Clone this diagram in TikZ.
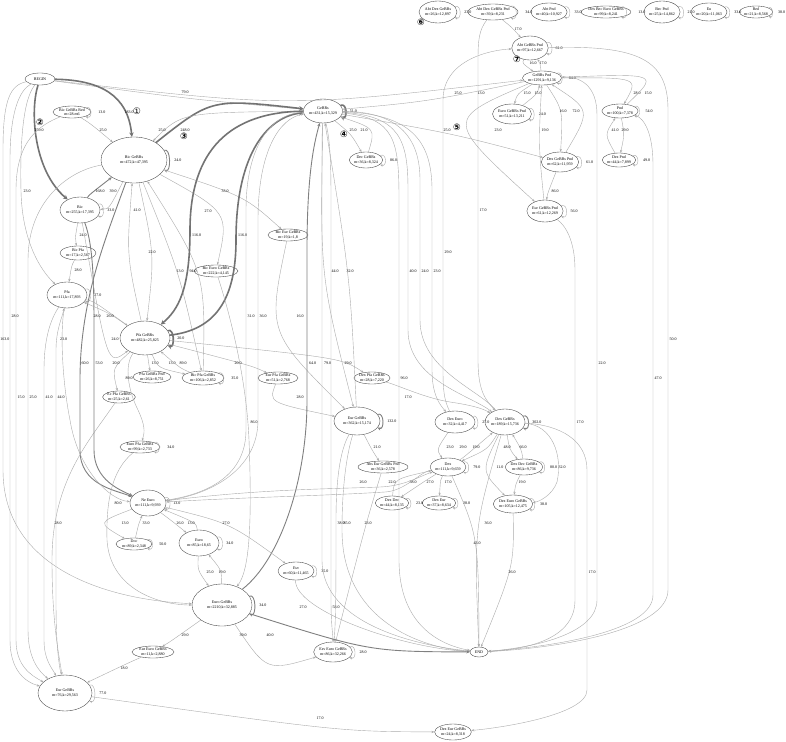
\documentclass[tikz,border=0pt]{standalone}
\usepackage{fontspec}
\setmainfont{Liberation Serif}
\newfontfamily\djv{DejaVu Sans}
\usetikzlibrary{shapes.geometric,arrows.meta,calc}
\newcommand\Nd[6]{\node[nd,minimum width=#4pt,minimum height=#5pt] (#1) at (#2,#3) {#6};}
\newcommand\Ea[5][e]{\draw[#1] (#2) .. controls ($2*(#4)+(-12,0)-0.5*(#2)-0.5*(#3)$) .. (#3); \node[lb] at (#4) {#5};}
\newcommand\Ep[6][e]{\draw[#1] (#2) .. controls ($2*(#4)-0.5*(#2)-0.5*(#3)$) .. (#3); \node[lb] at (#5) {#6};}
\newcommand\Sl[3][e]{\draw[#1] (#2.18) .. controls ($(#2.18)+(7,-3)$) and ($(#2.-18)+(7,3)$) .. (#2.-18); \node[lb,anchor=west] at ($(#2.east)+(7,0)$) {#3};}
\begin{document}
\begin{tikzpicture}[x=1pt,y=-1pt,
  nd/.style={ellipse,draw=black!75,line width=0.35pt,inner sep=0pt,align=center,font=\fontsize{4}{4.6}\selectfont},
  lb/.style={font=\fontsize{4}{4.6}\selectfont,inner sep=0pt},
  e/.style={draw=black!33,line width=0.4pt,-{Stealth[length=3pt,width=2.2pt]}},
  em/.style={draw=black!50,line width=0.9pt,-{Stealth[length=3.5pt,width=3pt]}},
  et/.style={draw=black!55,line width=1.6pt,-{Stealth[length=4.5pt,width=4.5pt]}},
  mk/.style={font=\djv\fontsize{9}{9}\selectfont,inner sep=0pt},
  mkb/.style={font=\djv\bfseries\fontsize{9}{9}\selectfont,inner sep=0pt}]
\useasboundingbox[fill=white] (0,0) rectangle (786,741);
% ---------------- nodes ----------------
\Nd{begin}{40}{79}{30}{12}{BEGIN}
\Nd{bicred}{72}{112}{38}{12}{Bic GeBRs Red\\m=28.m6}
\Nd{bicg}{134}{160}{66}{46}{Bic GeBRs\\m=472,k=47,395}
\Nd{bic}{80}{210}{40}{26}{Bic\\m=255,k=17,395}
\Nd{bicpfa}{78}{253}{36}{14}{Bic Pfa\\m=17,k=2,567}
\Nd{pfa}{67}{295}{40}{26}{Pfa\\m=111,k=17,893}
\Nd{pfag}{145}{338}{50}{34}{Pfa GeBRs\\m=482,k=25,825}
\Nd{pfagp}{152}{377}{38}{12}{Pfa GeBRs Pnd\\m=26,k=8,751}
\Nd{bicpfag}{203}{378}{42}{14}{Bic Pfa GeBRs\\m=106,k=2,852}
\Nd{eurpfa}{119}{397}{30}{12}{Ec Pfa GeBRs\\m=25,k=2,61}
\Nd{europfa}{140}{447}{40}{12}{Euro Pfa GeBRs\\m=99,k=2,733}
\Nd{biceuro}{216}{271}{44}{12}{Bic Euro GeBRs\\m=222,k=4,145}
\Nd{biceur}{288}{235}{40}{12}{Bic Eur GeBRs\\m=19,k=1,8}
\Nd{gebrs}{323}{111}{38}{24}{GeBRs\\m=431,k=15,329}
\Nd{decg}{366}{160}{32}{16}{Dec GeBRs\\m=36,k=8,324}
\Nd{eurg}{357}{421}{46}{28}{Eur GeBRs\\m=362,k=15,174}
\Nd{eurpfag}{278}{378}{40}{12}{Eur Pfa GeBRs\\m=51,k=2,768}
\Nd{dexpfag}{372}{378}{36}{12}{Dex Pfa GeBRs\\m=28,k=7,220}
\Nd{abseur}{383}{467}{50}{12}{Abs Eur GeBRs Pnd\\m=36,k=2,578}
\Nd{dexg}{505}{422}{40}{26}{Dex GeBRs\\m=189,k=15,736}
\Nd{dexeuro}{455}{422}{40}{22}{Dex Euro\\m=32,k=4,417}
\Nd{dex}{448}{467}{34}{18}{Dex\\m=111,k=9,659}
\Nd{dexdec}{392}{503}{32}{14}{Dex Dec\\m=44,k=8,135}
\Nd{dexeur}{439}{503}{32}{14}{Dex Eur\\m=37,k=8,634}
\Nd{dexdecg}{524}{467}{36}{16}{Dex Dec GeBRs\\m=86,k=9,736}
\Nd{dexeurog}{513}{504}{34}{18}{Dex Euro GeBRs\\m=105,k=12,475}
\Nd{end}{479}{652}{18}{10}{END}
\Nd{dexeurg}{453}{732}{36}{16}{Dex Eur GeBRs\\m=24,k=8,318}
\Nd{eurgl}{65}{693}{54}{36}{Eur GeBRs\\m=76,k=29,563}
\Nd{eureurog}{153}{652}{42}{12}{Eur Euro GeBRs\\m=11,k=2,880}
\Nd{eurog}{222}{605}{60}{42}{Euro GeBRs\\m=2210,k=32,885}
\Nd{euro}{199}{543}{40}{26}{Euro\\m=85,k=18,65}
\Nd{doc}{134}{544}{36}{12}{Doc\\m=89,k=2,348}
\Nd{neeuro}{148}{503}{36}{26}{Ne Euro\\m=111,k=9,939}
\Nd{esv}{296}{571}{30}{18}{Esv\\m=60,k=11,465}
\Nd{esveurog}{333}{652}{36}{20}{Esv Euro GeBRs\\m=86,k=32,266}
\Nd{abtdex}{438}{12}{38}{22}{Abt Dex GeBRs\\m=26,k=12,897}
\Nd{abtdexp}{493}{12}{50}{16}{Abt Dex GeBRs Pnd\\m=39,k=8,231}
\Nd{abtpnd}{549}{12}{32}{18}{Abt Pnd\\m=40,k=10,927}
\Nd{dexbec}{606}{12}{46}{12}{Dex Bec Euro GeBRs\\m=99,k=8,241}
\Nd{becpnd}{662}{12}{34}{22}{Bec Pnd\\m=25,k=14,862}
\Nd{eu}{709}{12}{30}{18}{Eu\\m=20,k=11,063}
\Nd{red}{756}{12}{32}{12}{Red\\m=21,k=8,568}
\Nd{abtgp}{530}{48}{32}{24}{Abt GeBRs Pnd\\m=97,k=12,667}
\Nd{gebrsp}{542}{78}{36}{14}{GeBRs Pnd\\m=1291,k=9,136}
\Nd{eurogp}{512}{114}{34}{20}{Euro GeBRs Pnd\\m=51,k=13,211}
\Nd{dexgp}{560}{162}{30}{20}{Dex GeBRs Pnd\\m=62,k=11,959}
\Nd{eurgp}{545}{211}{34}{22}{Eur GeBRs Pnd\\m=61,k=12,269}
\Nd{pnd}{620}{111}{36}{14}{Pnd\\m=100,k=7,378}
\Nd{dexpnd}{619}{160}{32}{14}{Dex Pnd\\m=44,k=7,899}
% ---------------- markers ----------------
\node[mk] (m1) at (137,111) {①};
\node[mkb] (m2) at (40,122) {②};
\node[mkb] (m3) at (184,136) {③};
\node[mkb] (m4) at (344,134) {④};
\node[mkb] (m5) at (457,127) {⑤};
\node[mkb] (m6) at (421,22) {⑥};
\node[mkb] (m7) at (517,59) {⑦};
% ---------------- self loops ----------------
\Sl{bicred}{13.0}
\Sl[em]{bicg}{24.0}
\Sl{bic}{33.0}
\Sl{pfa}{27.0}
\Sl[et]{pfag}{20.0}
\Sl{bicpfag}{35.0}
\Sl{europfa}{34.0}
\Sl[et]{gebrs}{51.0}
\Sl{decg}{86.0}
\Sl[em]{eurg}{132.0}
\Sl[em]{dexg}{302.0}
\Sl{dexeuro}{27.0}
\Sl{dex}{79.0}
\Sl{dexdec}{23.0}
\Sl{dexeur}{28.0}
\Sl{dexdecg}{80.0}
\Sl{dexeurog}{38.0}
\Sl{eurgl}{77.0}
\Sl[em]{eurog}{34.0}
\Sl{euro}{34.0}
\Sl{doc}{50.0}
\Sl{neeuro}{13.0}
\Sl{esv}{35.0}
\Sl{esveurog}{28.0}
\Sl{abtdex}{23.0}
\Sl{abtdexp}{34.0}
\Sl{abtpnd}{33.0}
\Sl{dexbec}{13.0}
\Sl{becpnd}{21.0}
\Sl{eu}{33.0}
\draw[e] (red.18) .. controls ($(red.18)+(5,-3)$) and ($(red.-18)+(5,3)$) .. (red.-18);
\node[lb,anchor=west] at ($(red.east)+(5,0)$) {38.0};
\Sl{abtgp}{61.0}
\Sl{gebrsp}{84.0}
\Sl{eurogp}{24.0}
\Sl{dexgp}{61.0}
\Sl{eurgp}{56.0}
\Sl{pnd}{54.0}
\Sl{dexpnd}{49.0}
% ---------------- top cluster ----------------
\Ep{abtdexp}{abtgp}{512,29}{518,29}{17.0}
\Ep{abtgp}{gebrsp}{529,63}{533,63}{16.0}
\Ep{gebrsp}{abtgp}{538,63}{543,63}{17.0}
\Ep{gebrsp}{eurogp}{522,95}{527,93}{15.0}
\Ep{eurogp}{gebrsp}{532,95}{538,93}{15.0}
\Ep{gebrsp}{eurgp}{494,132}{498,130}{23.0}
\Ep{eurgp}{gebrsp}{541,145}{545,130}{19.0}
\Ep{gebrsp}{dexgp}{557,115}{563,111}{16.0}
\Ep{dexgp}{gebrsp}{571,115}{576,111}{72.0}
\Ep{dexgp}{eurgp}{550,190}{555,191}{86.0}
\Ep{gebrsp}{pnd}{610,86}{637,93}{28.0}
\Ep{pnd}{gebrsp}{620,84}{648,93}{15.0}
\Ep{pnd}{dexpnd}{622,135}{625,130}{29.0}
\Ep{dexpnd}{pnd}{612,135}{615,130}{41.0}
% long right lines
\draw[e] (abtgp) .. controls (640,45) and (668,60) .. (668,110) -- (668,590) .. controls (668,630) and (560,648) .. (end);
\node[lb,anchor=west] at (669.5,339) {50.0};
\draw[e] (pnd) .. controls (645,118) and (653,135) .. (653,165) -- (653,595) .. controls (653,630) and (560,646) .. (end);
\node[lb,anchor=west] at (654.5,378) {47.0};
\draw[e] (gebrsp) .. controls (580,76) and (597,85) .. (597,115) -- (597,600) .. controls (597,632) and (540,647) .. (end);
\node[lb,anchor=west] at (598.5,363) {22.0};
\draw[e] (eurgp) .. controls (565,225) and (575,240) .. (575,270) -- (575,600) .. controls (575,638) and (530,649) .. (end);
\node[lb,anchor=west] at (576.5,422) {17.0};
\draw[e] (dexg) .. controls (560,425) and (587,440) .. (587,470) -- (587,690) .. controls (587,715) and (500,728) .. (dexeurg);
\node[lb,anchor=west] at (588.5,572) {17.0};
\draw[e] (abtdexp) .. controls (479,30) and (478,40) .. (478,60) -- (478,360) .. controls (478,392) and (486,400) .. (dexg);
\node[lb,anchor=west] at (479.5,210) {17.0};
\draw[e] (dexeuro) .. controls (444,400) and (443,390) .. (443,370) -- (443,100) .. controls (443,60) and (490,50) .. (abtgp);
\node[lb,anchor=west] at (444.5,252) {29.0};
% ---------------- begin ----------------
\Ep{begin}{gebrs}{185,97}{185,92}{79.0}
\Ep{begin}{gebrsp}{290,93}{458,93}{25.0}
\Ep{gebrsp}{gebrs}{430,98}{481,93}{13.0}
\Ep{gebrs}{dexgp}{447,135}{447,130}{25.0}
\draw[et] (begin) .. controls (100,80) and (128,95) .. (bicg);
\node[lb] at (129,112) {183.0};
\draw[et] (begin) .. controls (30,110) and (33,170) .. (bic);
\node[lb] at (39,130) {259.0};
\draw[e] (begin) .. controls (22,100) and (20,150) .. (21,191) .. controls (22,240) and (40,270) .. (pfa);
\node[lb,anchor=west] at (23.5,191) {23.0};
\draw[e] (begin) .. controls (10,85) and (3,100) .. (3,150) -- (3,470) .. controls (3,570) and (110,600) .. (eurog);
\node[lb] at (5,339) {163.0};
\draw[e] (begin) .. controls (20,90) and (10,110) .. (10,160) -- (10,640) .. controls (10,670) and (25,682) .. (eurgl);
\node[lb,anchor=west] at (11.5,316) {28.0};
\draw[e] (bicred) .. controls (40,125) and (16,140) .. (16,190) -- (16,640) .. controls (16,665) and (30,675) .. (eurgl);
\node[lb,anchor=west] at (17.5,397) {15.0};
\draw[e] (bicg) .. controls (70,170) and (28,200) .. (28,260) -- (28,630) .. controls (28,660) and (40,672) .. (eurgl);
\node[lb,anchor=west] at (29.5,397) {25.0};
\draw[e] (pfa) .. controls (50,320) and (44,340) .. (44,370) -- (44,640) .. controls (44,660) and (52,668) .. (eurgl);
\node[lb,anchor=west] at (45.5,397) {41.0};
\draw[e] (eurgl) .. controls (58,660) and (56,640) .. (56,600) -- (56,350) .. controls (56,330) and (62,318) .. (pfa);
\node[lb,anchor=west] at (57.5,397) {44.0};
\draw[e] (eurpfa) .. controls (90,440) and (52,480) .. (52,560) .. controls (52,620) and (58,650) .. (eurgl);
\node[lb,anchor=west] at (54.5,523) {28.0};
% ---------------- bic area ----------------
\Ep[et]{bicg}{gebrs}{220,117}{185,130}{248.0}
\Ep{gebrs}{bicg}{205,124}{162,130}{25.0}
\Ea{bicred}{bicg}{103,130}{25.0}
\Ep[em]{bic}{bicg}{98,190}{100,191}{168.0}
\Ep{bicg}{bic}{108,197}{113,191}{39.0}
\Ea{bic}{bicpfa}{83,235}{24.0}
\Ea{bicpfa}{pfa}{78,270}{28.0}
\Ep{pfag}{bicg}{133,252}{137,210}{41.0}
\Ep{bicg}{pfag}{147,252}{152,252}{22.0}
\Ea{bicg}{bicpfag}{180,271}{13.0}
\Ea{bicpfag}{bicg}{193,271}{94.0}
\Ep{bicg}{biceur}{228,197}{225,191}{33.0}
\Ep{bicg}{biceuro}{202,214}{208,211}{27.0}
\draw[et] (gebrs) .. controls (230,112) and (190,150) .. (190,230) .. controls (190,290) and (178,310) .. (pfag);
\node[lb,anchor=west] at (192,235) {116.0};
\draw[et] (pfag) .. controls (215,330) and (236,300) .. (236,240) .. controls (236,150) and (270,116) .. (gebrs);
\node[lb,anchor=west] at (238,235) {116.0};
\draw[em] (bicg) .. controls (105,240) and (80,300) .. (80,380) -- (80,450) .. controls (80,485) and (115,490) .. (neeuro);
\node[lb,anchor=west] at (81.5,363) {60.0};
\draw[em] (bic) .. controls (95,250) and (94,300) .. (94,360) -- (94,450) .. controls (94,480) and (120,490) .. (neeuro);
\node[lb,anchor=west] at (95.5,363) {53.0};
\draw[e] (pfa) .. controls (60,330) and (62,380) .. (70,420) .. controls (78,470) and (110,500) .. (neeuro);
\node[lb,anchor=west] at (60,339) {23.0};
\Ep{bic}{pfag}{110,320}{115,339}{24.0}
\Ep{pfa}{pfag}{100,309}{97,316}{28.0}
\Ep{pfag}{pfa}{108,315}{110,316}{26.0}
% ---------------- pfa gebrs ----------------
\Ep{pfag}{pfagp}{149,363}{155,363}{13.0}
\Ea{pfag}{bicpfag}{172,363}{13.0}
\Ea{bicpfag}{pfag}{183,363}{89.0}
\Ep{pfag}{eurpfa}{122,368}{116,363}{20.0}
\draw[e] (pfag) .. controls (124,365) and (128,390) .. (138,410) .. controls (145,425) and (145,432) .. (europfa);
\node[lb] at (129,378) {89.0};
\draw[e] (europfa) .. controls (112,470) and (106,500) .. (107,540) .. controls (110,590) and (160,605) .. (eurog);
\node[lb] at (118,503) {80.0};
\Ep{pfag}{eurpfag}{232,362}{238,363}{20.0}
\Ep{pfag}{dexpfag}{300,358}{348,363}{29.0}
\Ep{eurpfag}{eurg}{293,401}{300,397}{28.0}
\Ep{biceur}{eurg}{295,330}{300,316}{16.0}
\draw[e] (biceuro) .. controls (235,330) and (247,390) .. (249,440) .. controls (252,520) and (250,570) .. (eurog);
\node[lb] at (254,422) {86.0};
% ---------------- gebrs down ----------------
\Ep{gebrs}{decg}{348,135}{353,130}{25.0}
\Ep{decg}{gebrs}{360,132}{364,130}{21.0}
\Ep{gebrs}{eurg}{330,271}{335,271}{44.0}
\Ep{eurg}{gebrs}{345,271}{350,271}{32.0}
\draw[e] (gebrs) .. controls (268,114) and (246,150) .. (246,210) -- (246,430) .. controls (246,480) and (200,495) .. (neeuro);
\node[lb,anchor=west] at (247.5,316) {31.0};
\draw[e] (neeuro) .. controls (210,495) and (258,470) .. (258,420) -- (258,220) .. controls (258,150) and (280,118) .. (gebrs);
\node[lb,anchor=west] at (259.5,316) {36.0};
\draw[em] (eurog) .. controls (280,560) and (307,480) .. (307,400) -- (307,250) .. controls (307,170) and (315,140) .. (gebrs);
\node[lb,anchor=west] at (309,363) {64.0};
\draw[e] (gebrs) .. controls (322,135) and (322,150) .. (322,180) -- (322,560) .. controls (322,625) and (420,646) .. (end);
\node[lb,anchor=west] at (324,363) {79.0};
\draw[e] (gebrs) .. controls (330,140) and (331,160) .. (331,200) -- (331,600) .. controls (331,625) and (333,635) .. (esveurog);
\node[lb,anchor=west] at (332.5,607) {58.0};
\draw[e] (eurg) .. controls (340,450) and (336,480) .. (336,520) .. controls (336,580) and (336,620) .. (esveurog);
\node[lb,anchor=west] at (337.5,523) {38.0};
\draw[e] (eurg) .. controls (348,450) and (342,480) .. (342,530) .. controls (342,620) and (420,648) .. (end);
\node[lb,anchor=west] at (343.5,523) {85.0};
\Ep{abseur}{esveurog}{361,545}{368,523}{23.0}
\Ea{eurg}{abseur}{377,447}{21.0}
\draw[e] (gebrs) .. controls (395,118) and (399,140) .. (399,200) -- (399,560) .. controls (399,625) and (440,645) .. (end);
\node[lb,anchor=west] at (400.5,378) {96.0};
\draw[e] (gebrs) .. controls (400,116) and (408,140) .. (408,190) -- (408,330) .. controls (408,380) and (470,395) .. (dexg);
\node[lb,anchor=west] at (409.5,271) {40.0};
\draw[e] (dexg) .. controls (480,390) and (420,370) .. (420,320) -- (420,180) .. controls (420,130) and (390,112) .. (gebrs);
\node[lb,anchor=west] at (421.5,271) {24.0};
\draw[e] (gebrs) .. controls (410,114) and (432,140) .. (432,190) -- (432,370) .. controls (432,395) and (440,405) .. (dexeuro);
\node[lb,anchor=west] at (433.5,271) {23.0};
\draw[e] (dexpfag) .. controls (400,386) and (425,398) .. (450,402) .. controls (470,405) and (482,408) .. (dexg);
\node[lb] at (408,397) {17.0};
% ---------------- dex area ----------------
\Ea{dexeuro}{dex}{450,447}{23.0}
\Ep{dex}{dexg}{470,451}{463,447}{29.0}
\Ep{dexg}{dex}{482,447}{476,447}{19.0}
\Ep{dexg}{dexdecg}{512,447}{507,447}{48.0}
\Ep{dexdecg}{dexg}{518,447}{523,447}{66.0}
\Ep{dexg}{dexeurog}{495,467}{500,467}{11.0}
\draw[e] (dexg) .. controls (552,425) and (563,455) .. (557,482) .. controls (552,496) and (538,502) .. (dexeurog);
\node[lb] at (562,467) {32.0};
\Ep{dexdecg}{dexeurog}{517,485}{522,482}{19.0}
\Ep{dexeurog}{end}{505,572}{512,572}{26.0}
\Ep{dexg}{end}{483,532}{488,523}{36.0}
\Ep{dex}{end}{471,548}{477,543}{43.0}
\Ea{dex}{dexdec}{430,482}{27.0}
\Ea{dexdec}{dex}{413,482}{38.0}
\Ea{dex}{dexeur}{448,482}{17.0}
\draw[e] (neeuro) .. controls (260,489) and (330,489) .. (380,487) .. controls (405,486) and (420,476) .. (dex);
\node[lb] at (363,482) {26.0};
\draw[e] (dex) .. controls (420,472) and (405,491) .. (385,492) .. controls (320,496) and (250,497) .. (neeuro);
\node[lb] at (392,482) {22.0};
% ---------------- euro area ----------------
\Ea{neeuro}{doc}{125,523}{13.0}
\Ea{doc}{neeuro}{146,523}{33.0}
\Ea{neeuro}{euro}{180,523}{26.0}
\Ea{euro}{neeuro}{191,523}{13.0}
\Ea{euro}{eurog}{210,572}{25.0}
\Ea{eurog}{euro}{222,572}{19.0}
\Ep{neeuro}{esv}{226,530}{226,523}{27.0}
\draw[e] (esv) .. controls (294,610) and (400,648) .. (end);
\node[lb] at (303,607) {27.0};
\Ep[em]{eurog}{end}{360,640}{270,635}{40.0}
\Ep{eurog}{esveurog}{272,650}{243,635}{39.0}
\Ea{eurog}{eureurog}{185,635}{29.0}
\Ea{eureurog}{eurgl}{124,668}{18.0}
\Ep{eurgl}{dexeurg}{300,722}{320,718}{17.0}
\end{tikzpicture}
\end{document}
